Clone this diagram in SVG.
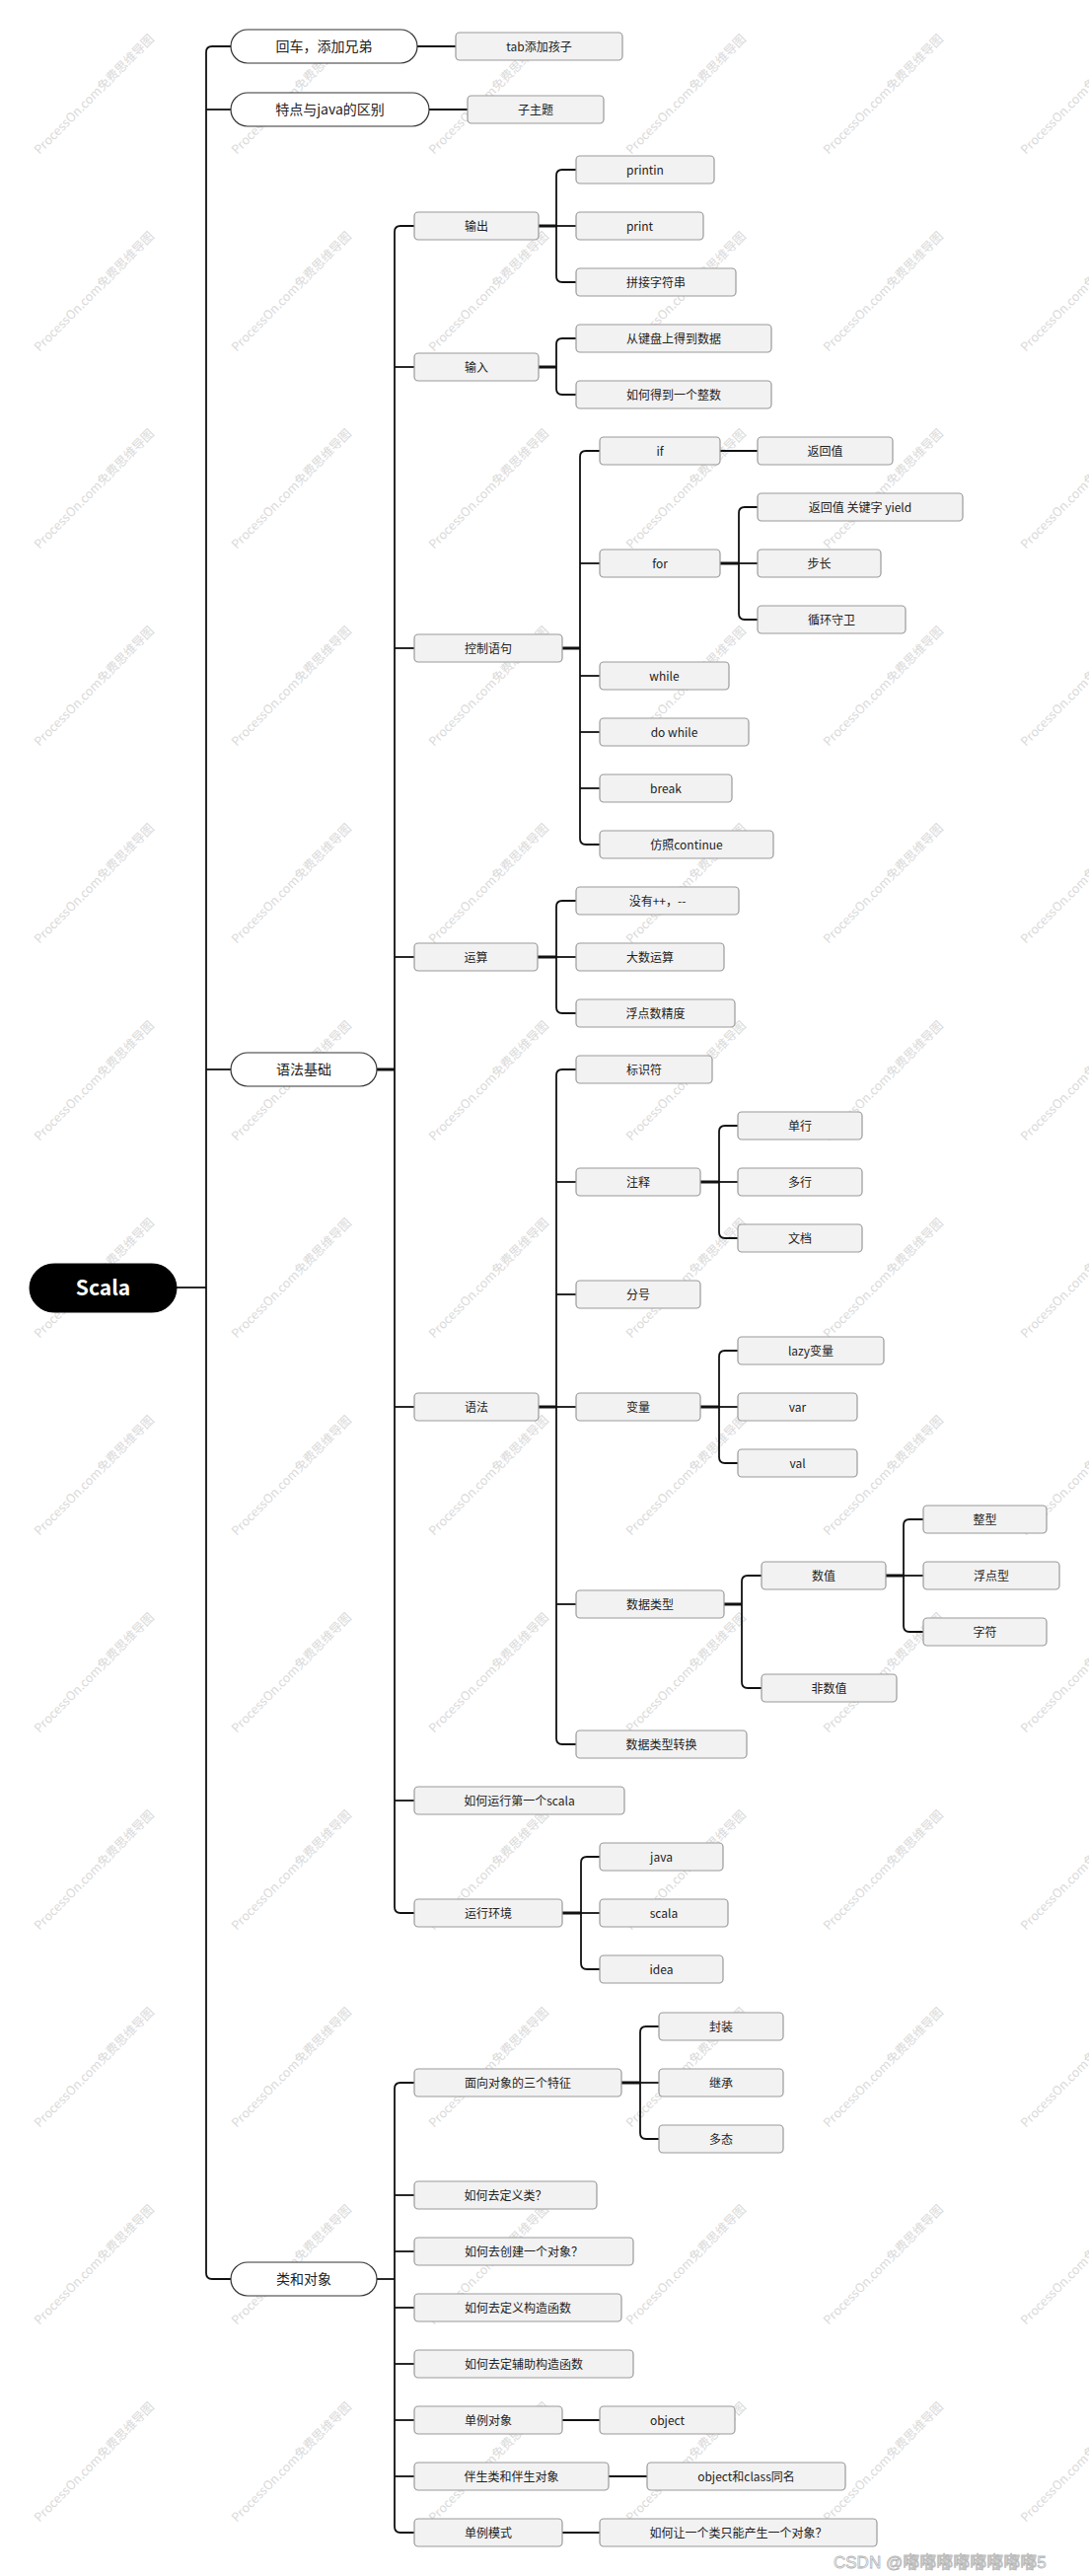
<svg xmlns="http://www.w3.org/2000/svg" xmlns:xlink="http://www.w3.org/1999/xlink" width="1104" height="2611" viewBox="0 0 1104 2611">
<style>
.n rect{fill:#f2f2f2;stroke:#9a9a9a;stroke-width:1.2}
.p rect{fill:#fff;stroke:#333;stroke-width:1.2}
text{font-family:"Noto Sans CJK SC","Noto Sans",sans-serif;fill:#222;text-anchor:middle;dominant-baseline:central;font-size:12px}
.p text{font-size:14px}
.r rect{fill:#000;stroke:#000}
.r text{fill:#fff;font-size:21px;font-weight:bold}
.c path{fill:none;stroke:#111;stroke-width:1.8}
.c path.s{stroke-width:3}
.wm{font-size:12.5px;fill:#dadada;text-anchor:start;dominant-baseline:auto}
.cs{font-family:"Liberation Sans","Noto Sans CJK SC",sans-serif;font-size:17px;fill:#fff;stroke:#b5b5b5;stroke-width:0.8;text-anchor:start;dominant-baseline:auto}
</style>
<defs>
<text id="wm" class="wm" transform="rotate(-45)">ProcessOn.com免费思维导图</text>
</defs>
<rect width="1104" height="2611" fill="#fff"/>
<g id="watermarks">
<use xlink:href="#wm" x="40" y="157"/><use xlink:href="#wm" x="240" y="157"/><use xlink:href="#wm" x="440" y="157"/><use xlink:href="#wm" x="640" y="157"/><use xlink:href="#wm" x="840" y="157"/><use xlink:href="#wm" x="1040" y="157"/>
<use xlink:href="#wm" x="40" y="357"/><use xlink:href="#wm" x="240" y="357"/><use xlink:href="#wm" x="440" y="357"/><use xlink:href="#wm" x="640" y="357"/><use xlink:href="#wm" x="840" y="357"/><use xlink:href="#wm" x="1040" y="357"/>
<use xlink:href="#wm" x="40" y="557"/><use xlink:href="#wm" x="240" y="557"/><use xlink:href="#wm" x="440" y="557"/><use xlink:href="#wm" x="640" y="557"/><use xlink:href="#wm" x="840" y="557"/><use xlink:href="#wm" x="1040" y="557"/>
<use xlink:href="#wm" x="40" y="757"/><use xlink:href="#wm" x="240" y="757"/><use xlink:href="#wm" x="440" y="757"/><use xlink:href="#wm" x="640" y="757"/><use xlink:href="#wm" x="840" y="757"/><use xlink:href="#wm" x="1040" y="757"/>
<use xlink:href="#wm" x="40" y="957"/><use xlink:href="#wm" x="240" y="957"/><use xlink:href="#wm" x="440" y="957"/><use xlink:href="#wm" x="640" y="957"/><use xlink:href="#wm" x="840" y="957"/><use xlink:href="#wm" x="1040" y="957"/>
<use xlink:href="#wm" x="40" y="1157"/><use xlink:href="#wm" x="240" y="1157"/><use xlink:href="#wm" x="440" y="1157"/><use xlink:href="#wm" x="640" y="1157"/><use xlink:href="#wm" x="840" y="1157"/><use xlink:href="#wm" x="1040" y="1157"/>
<use xlink:href="#wm" x="40" y="1357"/><use xlink:href="#wm" x="240" y="1357"/><use xlink:href="#wm" x="440" y="1357"/><use xlink:href="#wm" x="640" y="1357"/><use xlink:href="#wm" x="840" y="1357"/><use xlink:href="#wm" x="1040" y="1357"/>
<use xlink:href="#wm" x="40" y="1557"/><use xlink:href="#wm" x="240" y="1557"/><use xlink:href="#wm" x="440" y="1557"/><use xlink:href="#wm" x="640" y="1557"/><use xlink:href="#wm" x="840" y="1557"/><use xlink:href="#wm" x="1040" y="1557"/>
<use xlink:href="#wm" x="40" y="1757"/><use xlink:href="#wm" x="240" y="1757"/><use xlink:href="#wm" x="440" y="1757"/><use xlink:href="#wm" x="640" y="1757"/><use xlink:href="#wm" x="840" y="1757"/><use xlink:href="#wm" x="1040" y="1757"/>
<use xlink:href="#wm" x="40" y="1957"/><use xlink:href="#wm" x="240" y="1957"/><use xlink:href="#wm" x="440" y="1957"/><use xlink:href="#wm" x="640" y="1957"/><use xlink:href="#wm" x="840" y="1957"/><use xlink:href="#wm" x="1040" y="1957"/>
<use xlink:href="#wm" x="40" y="2157"/><use xlink:href="#wm" x="240" y="2157"/><use xlink:href="#wm" x="440" y="2157"/><use xlink:href="#wm" x="640" y="2157"/><use xlink:href="#wm" x="840" y="2157"/><use xlink:href="#wm" x="1040" y="2157"/>
<use xlink:href="#wm" x="40" y="2357"/><use xlink:href="#wm" x="240" y="2357"/><use xlink:href="#wm" x="440" y="2357"/><use xlink:href="#wm" x="640" y="2357"/><use xlink:href="#wm" x="840" y="2357"/><use xlink:href="#wm" x="1040" y="2357"/>
<use xlink:href="#wm" x="40" y="2557"/><use xlink:href="#wm" x="240" y="2557"/><use xlink:href="#wm" x="440" y="2557"/><use xlink:href="#wm" x="640" y="2557"/><use xlink:href="#wm" x="840" y="2557"/><use xlink:href="#wm" x="1040" y="2557"/>
</g>
<g id="connectors" class="c">
<path d="M179,1305 H209"/>
<path d="M209,1305 V53 Q209,47 215,47 H234"/>
<path d="M209,111 H234"/>
<path d="M209,1084 H234"/>
<path d="M209,1305 V2304 Q209,2310 215,2310 H234"/>
<path d="M423,47 H462"/>
<path d="M435,111 H474"/>
<path class="s" d="M382,1084 H400"/>
<path d="M400,1084 V235 Q400,229 406,229 H420"/>
<path d="M400,372 H420"/>
<path d="M400,657 H420"/>
<path d="M400,970 H420"/>
<path d="M400,1426 H420"/>
<path d="M400,1825 H420"/>
<path d="M400,1084 V1933 Q400,1939 406,1939 H420"/>
<path class="s" d="M546,229 H564"/>
<path d="M564,229 V178 Q564,172 570,172 H584"/>
<path d="M564,229 H584"/>
<path d="M564,229 V280 Q564,286 570,286 H584"/>
<path class="s" d="M546,372 H564"/>
<path d="M564,372 V349 Q564,343 570,343 H584"/>
<path d="M564,372 V394 Q564,400 570,400 H584"/>
<path class="s" d="M570,657 H588"/>
<path d="M588,657 V463 Q588,457 594,457 H608"/>
<path d="M588,571 H608"/>
<path d="M588,685 H608"/>
<path d="M588,742 H608"/>
<path d="M588,799 H608"/>
<path d="M588,657 V850 Q588,856 594,856 H608"/>
<path d="M730,457 H768"/>
<path class="s" d="M730,571 H749"/>
<path d="M749,571 V520 Q749,514 755,514 H768"/>
<path d="M749,571 H768"/>
<path d="M749,571 V622 Q749,628 755,628 H768"/>
<path class="s" d="M545,970 H564"/>
<path d="M564,970 V919 Q564,913 570,913 H584"/>
<path d="M564,970 H584"/>
<path d="M564,970 V1021 Q564,1027 570,1027 H584"/>
<path class="s" d="M546,1426 H564"/>
<path d="M564,1426 V1090 Q564,1084 570,1084 H584"/>
<path d="M564,1198 H584"/>
<path d="M564,1312 H584"/>
<path d="M564,1426 H584"/>
<path d="M564,1626 H584"/>
<path d="M564,1426 V1762 Q564,1768 570,1768 H584"/>
<path class="s" d="M710,1198 H729"/>
<path d="M729,1198 V1147 Q729,1141 735,1141 H748"/>
<path d="M729,1198 H748"/>
<path d="M729,1198 V1249 Q729,1255 735,1255 H748"/>
<path class="s" d="M710,1426 H729"/>
<path d="M729,1426 V1375 Q729,1369 735,1369 H748"/>
<path d="M729,1426 H748"/>
<path d="M729,1426 V1477 Q729,1483 735,1483 H748"/>
<path class="s" d="M734,1626 H752"/>
<path d="M752,1626 V1603 Q752,1597 758,1597 H772"/>
<path d="M752,1626 V1705 Q752,1711 758,1711 H772"/>
<path class="s" d="M898,1597 H916"/>
<path d="M916,1597 V1546 Q916,1540 922,1540 H936"/>
<path d="M916,1597 H936"/>
<path d="M916,1597 V1648 Q916,1654 922,1654 H936"/>
<path class="s" d="M570,1939 H589"/>
<path d="M589,1939 V1888 Q589,1882 595,1882 H608"/>
<path d="M589,1939 H608"/>
<path d="M589,1939 V1990 Q589,1996 595,1996 H608"/>
<path d="M382,2310 H400"/>
<path d="M400,2310 V2117 Q400,2111 406,2111 H420"/>
<path d="M400,2225 H420"/>
<path d="M400,2282 H420"/>
<path d="M400,2339 H420"/>
<path d="M400,2396 H420"/>
<path d="M400,2453 H420"/>
<path d="M400,2510 H420"/>
<path d="M400,2310 V2561 Q400,2567 406,2567 H420"/>
<path class="s" d="M630,2111 H649"/>
<path d="M649,2111 V2060 Q649,2054 655,2054 H668"/>
<path d="M649,2111 H668"/>
<path d="M649,2111 V2162 Q649,2168 655,2168 H668"/>
<path d="M570,2453 H608"/>
<path d="M617,2510 H656"/>
<path d="M570,2567 H608"/>
</g>
<g id="n-scala" class="r"><rect x="30" y="1281" width="149" height="49" rx="24.5"/><text x="104.5" y="1304">Scala</text></g>
<g id="n-huiche" class="p"><rect x="234" y="30" width="189" height="34" rx="17"/><text x="328.5" y="46">回车，添加兄弟</text></g>
<g id="n-tab" class="n"><rect x="462" y="33" width="169" height="28" rx="4"/><text x="546.5" y="46">tab添加孩子</text></g>
<g id="n-tedian" class="p"><rect x="234" y="94" width="201" height="34" rx="17"/><text x="334.5" y="110">特点与java的区别</text></g>
<g id="n-zizhuti" class="n"><rect x="474" y="97" width="138" height="28" rx="4"/><text x="543" y="110">子主题</text></g>
<g id="n-yufajichu" class="p"><rect x="234" y="1067" width="148" height="34" rx="17"/><text x="308" y="1083">语法基础</text></g>
<g id="n-shuchu" class="n"><rect x="420" y="215" width="126" height="28" rx="4"/><text x="483" y="228">输出</text></g>
<g id="n-printin" class="n"><rect x="584" y="158" width="140" height="28" rx="4"/><text x="654" y="171">printin</text></g>
<g id="n-print" class="n"><rect x="584" y="215" width="129" height="28" rx="4"/><text x="648.5" y="228">print</text></g>
<g id="n-pinjie" class="n"><rect x="584" y="272" width="162" height="28" rx="4"/><text x="665" y="285">拼接字符串</text></g>
<g id="n-shuru" class="n"><rect x="420" y="358" width="126" height="28" rx="4"/><text x="483" y="371">输入</text></g>
<g id="n-jianpan" class="n"><rect x="584" y="329" width="198" height="28" rx="4"/><text x="683" y="342">从键盘上得到数据</text></g>
<g id="n-zhengshu" class="n"><rect x="584" y="386" width="198" height="28" rx="4"/><text x="683" y="399">如何得到一个整数</text></g>
<g id="n-kongzhi" class="n"><rect x="420" y="643" width="150" height="28" rx="4"/><text x="495" y="656">控制语句</text></g>
<g id="n-if" class="n"><rect x="608" y="443" width="122" height="28" rx="4"/><text x="669" y="456">if</text></g>
<g id="n-if-ret" class="n"><rect x="768" y="443" width="137" height="28" rx="4"/><text x="836.5" y="456">返回值</text></g>
<g id="n-for" class="n"><rect x="608" y="557" width="122" height="28" rx="4"/><text x="669" y="570">for</text></g>
<g id="n-yield" class="n"><rect x="768" y="500" width="208" height="28" rx="4"/><text x="872" y="513">返回值 关键字 yield</text></g>
<g id="n-buchang" class="n"><rect x="768" y="557" width="125" height="28" rx="4"/><text x="830.5" y="570">步长</text></g>
<g id="n-shouwei" class="n"><rect x="768" y="614" width="150" height="28" rx="4"/><text x="843" y="627">循环守卫</text></g>
<g id="n-while" class="n"><rect x="608" y="671" width="131" height="28" rx="4"/><text x="673.5" y="684">while</text></g>
<g id="n-dowhile" class="n"><rect x="608" y="728" width="151" height="28" rx="4"/><text x="683.5" y="741">do while</text></g>
<g id="n-break" class="n"><rect x="608" y="785" width="134" height="28" rx="4"/><text x="675" y="798">break</text></g>
<g id="n-continue" class="n"><rect x="608" y="842" width="176" height="28" rx="4"/><text x="696" y="855">仿照continue</text></g>
<g id="n-yunsuan" class="n"><rect x="420" y="956" width="125" height="28" rx="4"/><text x="482.5" y="969">运算</text></g>
<g id="n-meiyou" class="n"><rect x="584" y="899" width="165" height="28" rx="4"/><text x="666.5" y="912">没有++，--</text></g>
<g id="n-dashu" class="n"><rect x="584" y="956" width="150" height="28" rx="4"/><text x="659" y="969">大数运算</text></g>
<g id="n-fudian" class="n"><rect x="584" y="1013" width="161" height="28" rx="4"/><text x="664.5" y="1026">浮点数精度</text></g>
<g id="n-yufa" class="n"><rect x="420" y="1412" width="126" height="28" rx="4"/><text x="483" y="1425">语法</text></g>
<g id="n-biaoshi" class="n"><rect x="584" y="1070" width="138" height="28" rx="4"/><text x="653" y="1083">标识符</text></g>
<g id="n-zhushi" class="n"><rect x="584" y="1184" width="126" height="28" rx="4"/><text x="647" y="1197">注释</text></g>
<g id="n-danhang" class="n"><rect x="748" y="1127" width="126" height="28" rx="4"/><text x="811" y="1140">单行</text></g>
<g id="n-duohang" class="n"><rect x="748" y="1184" width="126" height="28" rx="4"/><text x="811" y="1197">多行</text></g>
<g id="n-wendang" class="n"><rect x="748" y="1241" width="126" height="28" rx="4"/><text x="811" y="1254">文档</text></g>
<g id="n-fenhao" class="n"><rect x="584" y="1298" width="126" height="28" rx="4"/><text x="647" y="1311">分号</text></g>
<g id="n-bianliang" class="n"><rect x="584" y="1412" width="126" height="28" rx="4"/><text x="647" y="1425">变量</text></g>
<g id="n-lazy" class="n"><rect x="748" y="1355" width="148" height="28" rx="4"/><text x="822" y="1368">lazy变量</text></g>
<g id="n-var" class="n"><rect x="748" y="1412" width="121" height="28" rx="4"/><text x="808.5" y="1425">var</text></g>
<g id="n-val" class="n"><rect x="748" y="1469" width="121" height="28" rx="4"/><text x="808.5" y="1482">val</text></g>
<g id="n-leixing" class="n"><rect x="584" y="1612" width="150" height="28" rx="4"/><text x="659" y="1625">数据类型</text></g>
<g id="n-shuzhi" class="n"><rect x="772" y="1583" width="126" height="28" rx="4"/><text x="835" y="1596">数值</text></g>
<g id="n-zhengxing" class="n"><rect x="936" y="1526" width="125" height="28" rx="4"/><text x="998.5" y="1539">整型</text></g>
<g id="n-fudianxing" class="n"><rect x="936" y="1583" width="138" height="28" rx="4"/><text x="1005" y="1596">浮点型</text></g>
<g id="n-zifu" class="n"><rect x="936" y="1640" width="125" height="28" rx="4"/><text x="998.5" y="1653">字符</text></g>
<g id="n-feishuzhi" class="n"><rect x="772" y="1697" width="137" height="28" rx="4"/><text x="840.5" y="1710">非数值</text></g>
<g id="n-zhuanhuan" class="n"><rect x="584" y="1754" width="173" height="28" rx="4"/><text x="670.5" y="1767">数据类型转换</text></g>
<g id="n-first" class="n"><rect x="420" y="1811" width="213" height="28" rx="4"/><text x="526.5" y="1824">如何运行第一个scala</text></g>
<g id="n-huanjing" class="n"><rect x="420" y="1925" width="150" height="28" rx="4"/><text x="495" y="1938">运行环境</text></g>
<g id="n-java" class="n"><rect x="608" y="1868" width="125" height="28" rx="4"/><text x="670.5" y="1881">java</text></g>
<g id="n-scala2" class="n"><rect x="608" y="1925" width="130" height="28" rx="4"/><text x="673" y="1938">scala</text></g>
<g id="n-idea" class="n"><rect x="608" y="1982" width="125" height="28" rx="4"/><text x="670.5" y="1995">idea</text></g>
<g id="n-lei" class="p"><rect x="234" y="2293" width="148" height="34" rx="17"/><text x="308" y="2309">类和对象</text></g>
<g id="n-mianxiang" class="n"><rect x="420" y="2097" width="210" height="28" rx="4"/><text x="525" y="2110">面向对象的三个特征</text></g>
<g id="n-fengzhuang" class="n"><rect x="668" y="2040" width="126" height="28" rx="4"/><text x="731" y="2053">封装</text></g>
<g id="n-jicheng" class="n"><rect x="668" y="2097" width="126" height="28" rx="4"/><text x="731" y="2110">继承</text></g>
<g id="n-duotai" class="n"><rect x="668" y="2154" width="126" height="28" rx="4"/><text x="731" y="2167">多态</text></g>
<g id="n-dingyilei" class="n"><rect x="420" y="2211" width="185" height="28" rx="4"/><text x="512.5" y="2224">如何去定义类？</text></g>
<g id="n-chuangjian" class="n"><rect x="420" y="2268" width="222" height="28" rx="4"/><text x="531" y="2281">如何去创建一个对象？</text></g>
<g id="n-gouzao" class="n"><rect x="420" y="2325" width="210" height="28" rx="4"/><text x="525" y="2338">如何去定义构造函数</text></g>
<g id="n-fuzhu" class="n"><rect x="420" y="2382" width="222" height="28" rx="4"/><text x="531" y="2395">如何去定辅助构造函数</text></g>
<g id="n-danli" class="n"><rect x="420" y="2439" width="150" height="28" rx="4"/><text x="495" y="2452">单例对象</text></g>
<g id="n-object" class="n"><rect x="608" y="2439" width="137" height="28" rx="4"/><text x="676.5" y="2452">object</text></g>
<g id="n-bansheng" class="n"><rect x="420" y="2496" width="197" height="28" rx="4"/><text x="518.5" y="2509">伴生类和伴生对象</text></g>
<g id="n-tongming" class="n"><rect x="656" y="2496" width="201" height="28" rx="4"/><text x="756.5" y="2509">object和class同名</text></g>
<g id="n-moshi" class="n"><rect x="420" y="2553" width="150" height="28" rx="4"/><text x="495" y="2566">单例模式</text></g>
<g id="n-zhineng" class="n"><rect x="608" y="2553" width="281" height="28" rx="4"/><text x="748.5" y="2566">如何让一个类只能产生一个对象？</text></g>
<g id="csdn">
<text class="cs" x="845" y="2603">CSDN @嘟嘟嘟嘟嘟嘟嘟嘟5</text>
</g>
</svg>
